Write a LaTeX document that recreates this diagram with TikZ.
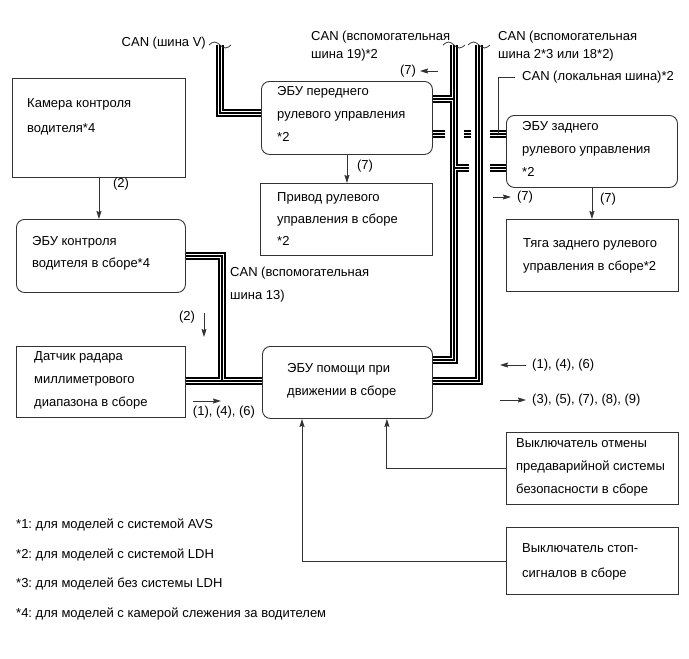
\documentclass[tikz,border=0pt]{standalone}
\usepackage{fontspec}
\setmainfont{Liberation Sans}
\usetikzlibrary{arrows.meta,calc}
\frenchspacing
\newcommand\mybusnet{%
 \draw (vtop) |- (fV);
 \draw (atop) |- (hA);
 \draw (fA) -- (fA -| atop);
 \draw (rA -| atop) -- ++(15,0);
 \draw (btop) |- (hB);
 \draw (dB) -| (j13) -- (hC);
 \draw (sB) -- (j13);
 \draw (fL) -- ++(12,0);
 \draw (m1) -- ++(7,0);
 \draw (rL) -- ++(-16,0);
 \draw (rA) -- ++(-16,0);
}
\newcommand\mytilde[1]{\draw[line width=0.7pt,black!85] ($(#1)+(-11,0)$) sin ++(5.5,-3) cos ++(5.5,3) sin ++(5.5,3) cos ++(5.5,-3);}
\begin{document}
\frenchspacing
\begin{tikzpicture}[x=1pt,y=-1pt,
 sq/.style={draw=black!80, line width=0.9pt, anchor=north west, inner sep=0pt},
 rd/.style={sq, rounded corners=8pt},
 txt/.style={anchor=west, align=left, inner sep=0pt, font=\fontsize{13}{#1}\selectfont},
 txt/.default=23,
 sig/.style={draw=black!80, line width=0.9pt, -{Stealth[length=8pt,width=5pt,inset=1pt]}},
 thinl/.style={draw=black!80, line width=0.8pt},
 lbl/.style={inner sep=0pt, font=\fontsize{13}{15}\selectfont}]
\useasboundingbox (0,0) rectangle (689,659);
% boxes
\node[sq, minimum width=173pt, minimum height=99pt] (cam) at (12,78) {};
\node[rd, minimum width=169pt, minimum height=73pt] (dmc) at (16,219) {};
\node[sq, minimum width=169pt, minimum height=71pt] (radar) at (16,346) {};
\node[rd, minimum width=170pt, minimum height=72pt] (asst) at (262,346) {};
\node[rd, minimum width=171pt, minimum height=73pt] (ecuf) at (261,81) {};
\node[sq, minimum width=172pt, minimum height=72pt] (act) at (260,183) {};
\node[rd, minimum width=171pt, minimum height=72pt] (ecur) at (506,115) {};
\node[sq, minimum width=172pt, minimum height=72pt] (rod) at (506,219) {};
\node[sq, minimum width=172pt, minimum height=72pt] (sw1) at (506,432) {};
\node[sq, minimum width=172pt, minimum height=67pt] (sw2) at (506,527) {};
% box texts
\node[txt=25] (camt) at (27,116.5) {Камера контроля\\водителя*4};
\node[txt=22] (dmct) at (32,253) {ЭБУ контроля\\водителя в сборе*4};
\node[txt=23] (radart) at (34,380) {Датчик радара\\миллиметрового\\диапазона в сборе};
\node[txt=23] (asstt) at (287,380.5) {ЭБУ помощи при\\движении в сборе};
\node[txt=23] (ecuft) at (277,114) {ЭБУ переднего\\рулевого управления\\*2};
\node[txt=22] (actt) at (277,219) {Привод рулевого\\управления в сборе\\*2};
\node[txt=23] (ecurt) at (522,148.5) {ЭБУ заднего\\рулевого управления\\*2};
\node[txt=23] (rodt) at (523,255.5) {Тяга заднего рулевого\\управления в сборе*2};
\node[txt=23] (sw1t) at (516,467) {Выключатель отмены\\предаварийной системы\\безопасности в сборе};
\node[txt=25] (sw2t) at (522,561.5) {Выключатель стоп-\\сигналов в сборе};
% bus labels
\node[lbl, anchor=east] (lV) at (206,43) {CAN (шина V)};
\node[txt=18] (l19) at (311,46) {CAN (вспомогательная\\шина 19)*2};
\node[txt=18] (l18) at (498,46) {CAN (вспомогательная\\шина 2*3 или 18*2)};
\node[lbl, anchor=west] (lok) at (522,77) {CAN (локальная шина)*2};
\node[txt=23] (l13) at (230,285) {CAN (вспомогательная\\шина 13)};
% bus coordinates
\coordinate (vtop) at (220,45);
\coordinate (atop) at (454,45);
\coordinate (btop) at (479,45);
\coordinate (fV) at ([yshift=-32pt]ecuf.north west);
\coordinate (hA) at ([yshift=-14pt]asst.north east);
\coordinate (hB) at ([yshift=-35pt]asst.north east);
\coordinate (hC) at ([yshift=-35pt]asst.north west);
\coordinate (fA) at ([yshift=-18pt]ecuf.north east);
\coordinate (fL) at ([yshift=-53pt]ecuf.north east);
\coordinate (rL) at ([yshift=-19pt]ecur.north west);
\coordinate (rA) at ([yshift=-53pt]ecur.north west);
\coordinate (m1) at ([xshift=31pt]fL);
\coordinate (dB) at ([yshift=-37pt]dmc.north east);
\coordinate (sB) at ([yshift=-35pt]radar.north east);
\coordinate (j13) at (222,381);
\begin{scope}[line width=8pt, black] \mybusnet \end{scope}
\begin{scope}[line width=4.2pt, white] \mybusnet \end{scope}
\begin{scope}[line width=1.3pt, black] \mybusnet \end{scope}
\mytilde{vtop}
\mytilde{atop}
\mytilde{btop}
\draw[thinl] ([xshift=-8pt]rL) |- ([xshift=-7pt]lok.west);
% signal arrows
\draw[sig] (cam.south) -- (cam.south |- dmc.north);
\node[lbl] (s2a) at (121,184) {(2)};
\node[lbl] (s2b) at (187,317) {(2)};
\draw[sig] (204,313) -- (204,337);
\node[lbl] (s146a) at (224,412) {(1), (4), (6)};
\draw[sig] (193,401) -- (221,401);
\draw[sig] (ecuf.south) -- (ecuf.south |- act.north);
\node[lbl] (s7a) at (365,166) {(7)};
\node[lbl] (s7b) at (408,71) {(7)};
\draw[sig] (438,71) -- (420,71);
\draw[sig] (ecur.south) -- (ecur.south |- rod.north);
\node[lbl] (s7c) at (608,199) {(7)};
\draw[sig] (493,197) -- (511,197);
\node[lbl] (s7d) at (525,197) {(7)};
\draw[sig] (526,365) -- (500,365);
\node[lbl, anchor=west] (s146b) at (532,365) {(1), (4), (6)};
\draw[sig] (500,400) -- (526,400);
\node[lbl, anchor=west] (s357) at (532,400) {(3), (5), (7), (8), (9)};
\draw[sig] (sw1.west) -| ([xshift=-46pt]asst.south east);
\draw[sig] (sw2.west) -| ([xshift=40pt]asst.south west);
% footnotes
\node[lbl, anchor=west] (f1) at (16,525) {*1: для моделей с системой AVS};
\node[lbl, anchor=west] (f2) at (16,555) {*2: для моделей с системой LDH};
\node[lbl, anchor=west] (f3) at (16,584) {*3: для моделей без системы LDH};
\node[lbl, anchor=west] (f4) at (16,614) {*4: для моделей с камерой слежения за водителем};
\end{tikzpicture}
\end{document}
